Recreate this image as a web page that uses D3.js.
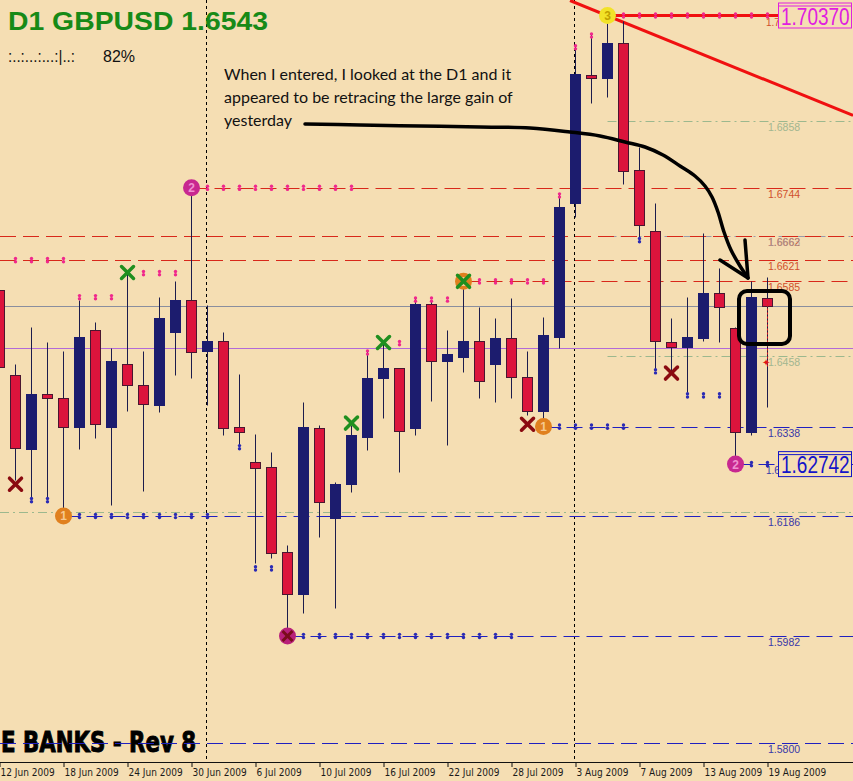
<!DOCTYPE html>
<html><head><meta charset="utf-8">
<script src="https://cdn.jsdelivr.net/npm/d3@7"></script>
<style>body{margin:0;background:#f5deb3;} svg{display:block}</style>
</head><body>
<svg id="c" width="853" height="781"></svg>
<script>
// ---------- DATA ----------
const dates = ["2009-06-12","2009-06-15","2009-06-16","2009-06-17","2009-06-18","2009-06-19",
"2009-06-22","2009-06-23","2009-06-24","2009-06-25","2009-06-26","2009-06-29","2009-06-30",
"2009-07-01","2009-07-02","2009-07-03","2009-07-06","2009-07-07","2009-07-08","2009-07-09","2009-07-10",
"2009-07-13","2009-07-14","2009-07-15","2009-07-16","2009-07-17","2009-07-20","2009-07-21","2009-07-22",
"2009-07-23","2009-07-24","2009-07-27","2009-07-28","2009-07-29","2009-07-30","2009-07-31",
"2009-08-03","2009-08-04","2009-08-05","2009-08-06","2009-08-07","2009-08-10","2009-08-11",
"2009-08-12","2009-08-13","2009-08-14","2009-08-17","2009-08-18","2009-08-19"];
const opens = [1.6571,1.6426,1.6300,1.6394,1.6387,1.6338,1.6503,1.6338,1.6445,1.6409,1.6374,1.6498,1.6554,
1.6466,1.6484,1.6338,1.6278,1.6270,1.6125,1.6054,1.6336,1.6183,1.6241,1.6321,1.6420,1.6437,1.6336,1.6546,
1.6449,1.6457,1.6484,1.6445,1.6489,1.6423,1.6365,1.6491,1.6719,1.6935,1.6930,1.6990,1.6775,1.6670,1.6481,
1.6474,1.6489,1.6566,1.6505,1.6329,1.6556];
const highs = [1.6585,1.6444,1.6507,1.6481,1.6467,1.6554,1.6515,1.6471,1.6602,1.6466,1.6559,1.6585,1.6744,
1.6544,1.6498,1.6428,1.6326,1.6294,1.6137,1.6379,1.6340,1.6243,1.6341,1.6466,1.6481,1.6438,1.6558,1.6551,
1.6503,1.6587,1.6541,1.6522,1.6556,1.6467,1.6525,1.6733,1.6985,1.7005,1.7037,1.7027,1.6813,1.6718,1.6522,
1.6559,1.6667,1.6607,1.6508,1.6585,1.6593];
const lows = [1.6432,1.6248,1.6217,1.6217,1.6186,1.6300,1.6319,1.6205,1.6365,1.6229,1.6362,1.6425,1.6421,
1.6375,1.6323,1.6307,1.6106,1.6115,1.5982,1.6021,1.6151,1.6030,1.6226,1.6299,1.6353,1.6261,1.6324,1.6381,
1.6307,1.6430,1.6387,1.6379,1.6387,1.6358,1.6338,1.6471,1.6694,1.6888,1.6898,1.6750,1.6656,1.6435,1.6430,
1.6396,1.6483,1.6481,1.62742,1.6324,1.6372];
const closes = [1.6440,1.6302,1.6394,1.6387,1.6338,1.6491,1.6343,1.6450,1.6408,1.6377,1.6522,1.6554,1.6464,
1.6484,1.6336,1.6329,1.6268,1.6123,1.6054,1.6338,1.6209,1.6241,1.6323,1.6420,1.6438,1.6331,1.6547,1.6449,
1.6461,1.6484,1.6415,1.6489,1.6423,1.6365,1.6493,1.6711,1.6937,1.6930,1.6990,1.6772,1.6680,1.6483,1.6474,
1.6491,1.6566,1.6541,1.6329,1.6558,1.6543];

const tickIndex = [0,4,8,12,16,20,24,28,32,36,40,44,48];
const tickLabels = ["12 Jun 2009","18 Jun 2009","24 Jun 2009","30 Jun 2009","6 Jul 2009","10 Jul 2009",
"16 Jul 2009","22 Jul 2009","28 Jul 2009","3 Aug 2009","7 Aug 2009","13 Aug 2009","19 Aug 2009"];

// resistance (red dashed), support (blue dashed), fibo (dash-dot)
const resistLevels = [1.6744, 1.6662, 1.6621, 1.6585];
const resistStart  = [12, 0, 0, 29];
const supportLevels = [1.6338, 1.62742, 1.6186, 1.5982, 1.5800];
const supportStart  = [34, 46, 4, 18, 0];
const fiboLevels = [1.6858, 1.6662, 1.6458, 1.6192];
const fiboStart  = [38, 38, 38, 0];
const fiboKind   = ["g","k","g","g"];
const labelPrices = [1.6858,1.6744,1.6662,1.6621,1.6585,1.6458,1.6338,1.6186,1.5982,1.5800];
const labelKind   = ["g","r","r","r","r","g","b","b","b","b"];
const hiddenLabelPrices = [1.7037, 1.62742];
const hiddenLabelText = ["1.7", "1.6"];
const hiddenLabelKind = ["r", "b"];
const bidPrice = 1.6543;
const purplePrice = 1.6471;

// fractal dots
const highDotPrices = [1.6621,1.6558,1.6599,1.6744,1.6464,1.6480,1.6554,1.6585,1.6731,1.6983,1.7003,1.7037];
const highDotFrom   = [1,5,9,13,23,25,26,30,35,36,37,39];
const highDotTo     = [4,7,11,22,23,25,28,34,35,36,37,48];
const lowDotPrices = [1.6213,1.6186,1.6303,1.6097,1.5982,1.6338,1.6655,1.6432,1.6391,1.62742];
const lowDotFrom   = [2,5,15,16,19,35,40,41,43,47];
const lowDotTo     = [3,13,15,17,32,39,40,41,45,48];

// pivot circles
const pivotIdx   = [4, 29, 34, 12, 46, 18, 38];
const pivotPrice = [1.6186, 1.6585, 1.6338, 1.6744, 1.62742, 1.5982, 1.7037];
const pivotKind  = ["o","o","o","m","m","x","y"];
const pivotText  = ["1","1","1","2","2","","3"];
// cross marks
const greenXIdx = [8, 22, 24, 29];
const greenXPrice = [1.6600, 1.6344, 1.6481, 1.6585];
const redXIdx = [1, 33, 42];
const redXPrice = [1.6240, 1.6342, 1.6429];

// trend lines (index, price)
const trendA = [[35.69, 1.70625], [53.375, 1.68671]];
const topLine = [[38, 1.7037], [48.8, 1.7037]];

// ---------- DRAW ----------
const W = 853, H = 781;
const svg = d3.select("#c");
const x = d3.scaleLinear().domain([0, 48]).range([-1, 767]);
const y = d3.scaleLinear().domain([1.58, 1.7037]).range([743, 15.5]);
const py = p => Math.round(y(p)) + 0.5;
const px = i => Math.round(x(i)) + 0.5;

svg.append("rect").attr("width", W).attr("height", H).attr("fill", "#f5deb3");

// watermark text
svg.append("text").attr("x", 1).attr("y", 752)
  .attr("font-family", "'DejaVu Sans Condensed','Liberation Sans Narrow','DejaVu Sans',sans-serif")
  .attr("font-stretch", "condensed").attr("font-weight", "bold").attr("font-size", 28)
  .attr("textLength", 195).attr("lengthAdjust", "spacingAndGlyphs")
  .attr("fill", "#000").attr("stroke", "#000").attr("stroke-width", 0.9).text("E BANKS - Rev 8");

// vertical period separators
svg.selectAll("line.sep").data([13, 36]).join("line")
  .attr("x1", d => px(d) - 1).attr("x2", d => px(d) - 1).attr("y1", 0).attr("y2", 762)
  .attr("stroke", "#000").attr("stroke-width", 1).attr("stroke-dasharray", "3,3");

// full-width solid lines
svg.append("line").attr("x1", 0).attr("x2", W).attr("y1", py(bidPrice)).attr("y2", py(bidPrice))
  .attr("stroke", "#8a8e9e").attr("stroke-width", 1);
svg.append("line").attr("x1", 0).attr("x2", W).attr("y1", py(purplePrice)).attr("y2", py(purplePrice))
  .attr("stroke", "#b26ad8").attr("stroke-width", 1);

// fibo dash-dot
fiboLevels.forEach((p, k) => {
  svg.append("line").attr("x1", Math.max(0, px(fiboStart[k]))).attr("x2", W)
    .attr("y1", py(p)).attr("y2", py(p))
    .attr("stroke", fiboKind[k] === "g" ? "#9cb88e" : "#9a9aa8").attr("stroke-width", 1)
    .attr("stroke-dasharray", "9,4,2,4");
});
// resistance
resistLevels.forEach((p, k) => {
  svg.append("line").attr("x1", Math.max(0, px(resistStart[k]))).attr("x2", W)
    .attr("y1", py(p)).attr("y2", py(p))
    .attr("stroke", "#d8281a").attr("stroke-width", 1).attr("stroke-dasharray", "16,7");
});
// support
supportLevels.forEach((p, k) => {
  svg.append("line").attr("x1", Math.max(0, px(supportStart[k]))).attr("x2", W)
    .attr("y1", py(p)).attr("y2", py(p))
    .attr("stroke", "#2020c0").attr("stroke-width", 1).attr("stroke-dasharray", "16,7");
});

// level labels
const labCol = {r: "#d0502c", g: "#a2b690", b: "#3838a8"};
const lblFont = "'Liberation Sans',Arial,sans-serif";
svg.selectAll("text.lvl").data(labelPrices).join("text")
  .attr("x", 768).attr("y", d => y(d) + 10)
  .attr("font-family", lblFont).attr("font-size", 10.5)
  .attr("fill", (d, i) => labCol[labelKind[i]]).text(d => d.toFixed(4));
svg.append("text").attr("x", 768).attr("y", y(1.6662) + 10)
  .attr("font-family", lblFont).attr("font-size", 10.5)
  .attr("fill", "#a0a0a8").attr("opacity", 0.8).text("1.6663");
hiddenLabelPrices.forEach((p, k) => svg.append("text").attr("x", 766).attr("y", y(p) + 10)
  .attr("font-family", lblFont).attr("font-size", 10)
  .attr("fill", labCol[hiddenLabelKind[k]]).text(hiddenLabelText[k]));

// thick red trend lines
const ln = d3.line().x(d => x(d[0])).y(d => y(d[1]));
svg.append("path").attr("d", ln(trendA)).attr("stroke", "#f01010").attr("stroke-width", 3).attr("fill", "none");
svg.append("path").attr("d", ln(topLine)).attr("stroke", "#f01010").attr("stroke-width", 3).attr("fill", "none");

// candles
const bars = dates.map((d, i) => ({i, o: opens[i], h: highs[i], l: lows[i], c: closes[i]}));
const cg = svg.append("g");
cg.selectAll("line.wick").data(bars).join("line")
  .attr("x1", d => px(d.i)).attr("x2", d => px(d.i))
  .attr("y1", d => py(d.h)).attr("y2", d => py(d.l))
  .attr("stroke", "#1c1c4c").attr("stroke-width", 1);
cg.selectAll("rect.body").data(bars).join("rect")
  .attr("x", d => px(d.i) - 5).attr("width", 10)
  .attr("y", d => py(Math.max(d.o, d.c)))
  .attr("height", d => Math.max(1, py(Math.min(d.o, d.c)) - py(Math.max(d.o, d.c))))
  .attr("fill", d => d.c < d.o ? "#dc143c" : "#1c1c6e")
  .attr("stroke", d => d.c < d.o ? "#4a1630" : "#1c1c6e").attr("stroke-width", 1);

// fractal dots
function dotRow(prices, from, to, col) {
  prices.forEach((p, k) => {
    for (let i = from[k]; i <= to[k]; i++) {
      const gx = px(i), gy = y(p);
      svg.append("circle").attr("cx", gx).attr("cy", gy - 1.6).attr("r", 1.7).attr("fill", col);
      svg.append("circle").attr("cx", gx).attr("cy", gy + 1.6).attr("r", 1.7).attr("fill", col);
    }
  });
}
dotRow(highDotPrices, highDotFrom, highDotTo, "#f0288c");
dotRow(lowDotPrices, lowDotFrom, lowDotTo, "#2a2ab4");

// pivot circles
const pCol = {o: "#e0801e", m: "#c82890", x: "#b8207a", y: "#f2e228"};
const pTxt = {o: "#f6c890", m: "#f090d0", x: "#f090c0", y: "#c0a000"};
pivotIdx.forEach((i, k) => {
  const cx = px(i), cy = y(pivotPrice[k]);
  svg.append("circle").attr("cx", cx).attr("cy", cy).attr("r", 8.5).attr("fill", pCol[pivotKind[k]]);
  if (pivotText[k]) svg.append("text").attr("x", cx).attr("y", cy + 4.5).attr("text-anchor", "middle")
    .attr("font-family", lblFont).attr("font-weight", "bold").attr("font-size", 12)
    .attr("fill", pTxt[pivotKind[k]]).text(pivotText[k]);
  if (pivotKind[k] === "x") {
    [[-5,-5,5,5],[-5,5,5,-5]].forEach(s => svg.append("line")
      .attr("x1", cx + s[0]).attr("y1", cy + s[1]).attr("x2", cx + s[2]).attr("y2", cy + s[3])
      .attr("stroke", "#7a0c1c").attr("stroke-width", 3));
  }
});

// cross marks
function crosses(idx, prices, col) {
  idx.forEach((i, k) => {
    const cx = px(i), cy = y(prices[k]);
    [[-6,-6,6,6],[-6,6,6,-6]].forEach(s => svg.append("line")
      .attr("x1", cx + s[0]).attr("y1", cy + s[1]).attr("x2", cx + s[2]).attr("y2", cy + s[3])
      .attr("stroke", col).attr("stroke-width", 3.5).attr("stroke-linecap", "round"));
  });
}
crosses(greenXIdx, greenXPrice, "#1f8f1f");
crosses(redXIdx, redXPrice, "#8a0a10");

// current bar marker
svg.append("line").attr("x1", px(48)).attr("x2", px(48)).attr("y1", py(1.6556) + 2).attr("y2", py(1.6440))
  .attr("stroke", "#e01818").attr("stroke-dasharray", "2,2");
svg.append("text").attr("x", px(48) - 2).attr("y", py(1.6450) + 4).attr("text-anchor", "middle")
  .attr("font-size", 10).attr("fill", "#e01818").text("✦");

// price boxes
function priceBox(p, col, txt) {
  const cy = y(p);
  svg.append("rect").attr("x", 778.5).attr("y", cy - 12.5).attr("width", 73).attr("height", 25)
    .attr("fill", "#f5deb3").attr("stroke", col).attr("stroke-width", 1);
  svg.append("line").attr("x1", 779).attr("x2", 851).attr("y1", cy - 9.5).attr("y2", cy - 9.5)
    .attr("stroke", col).attr("stroke-width", 1);
  svg.append("text").attr("transform", `translate(781,${cy + 9}) scale(1,1.22)`)
    .attr("font-family", lblFont).attr("font-size", 19)
    .attr("fill", col).text(txt);
}
priceBox(1.7037, "#e020e0", "1.70370");
priceBox(1.62742, "#1414c8", "1.62742");

// x axis
const ax = svg.append("g").attr("transform", "translate(0,762)");
ax.call(d3.axisBottom(x).tickValues(tickIndex).tickFormat((d, i) => tickLabels[i]).tickSize(5).tickSizeOuter(0));
ax.select(".domain").remove();
ax.selectAll(".tick line").attr("stroke", "#111").attr("transform", "translate(0.5,0)");
ax.selectAll(".tick text").attr("text-anchor", "start").attr("x", 1).attr("y", 14).attr("dy", 0)
  .attr("font-family", "'DejaVu Sans Condensed','DejaVu Sans',sans-serif").attr("font-stretch", "condensed")
  .attr("font-size", 10).attr("fill", "#1a1a1a");
svg.append("line").attr("x1", 0).attr("x2", W).attr("y1", 762.5).attr("y2", 762.5).attr("stroke", "#111");

// title
svg.append("text").attr("x", 8).attr("y", 30)
  .attr("font-family", lblFont).attr("font-weight", "bold").attr("font-size", 25)
  .attr("textLength", 260).attr("lengthAdjust", "spacingAndGlyphs")
  .attr("fill", "#178a17").text("D1 GBPUSD 1.6543");
svg.append("text").attr("x", 8).attr("y", 62)
  .attr("font-family", lblFont).attr("font-size", 16)
  .attr("textLength", 67).attr("lengthAdjust", "spacingAndGlyphs")
  .attr("fill", "#111").text(":..:...:...:|..:");
svg.append("text").attr("x", 103).attr("y", 62)
  .attr("font-family", lblFont).attr("font-size", 16)
  .attr("fill", "#111").text("82%");

// annotation
const noteLines = ["When I entered, I looked at the D1 and it", "appeared to be retracing the large gain of", "yesterday"];
svg.selectAll("text.note").data(noteLines).join("text")
  .attr("x", 224).attr("y", (d, i) => 80 + i * 23)
  .attr("font-family", "Lato,'Open Sans',sans-serif").attr("font-size", 16).attr("fill", "#111").text(d => d);

const arrowPts = [[305,124],[360,125],[420,126],[480,127],[530,128],[570,132],[600,136],[625,142],[645,147],
  [663,155],[680,166],[695,176],[705,186],[712,197],[718,212],[724,232],[731,250],[740,266],[748,278]];
svg.append("path").attr("d", d3.line().curve(d3.curveCatmullRom)(arrowPts))
  .attr("fill", "none").attr("stroke", "#000").attr("stroke-width", 3.5).attr("stroke-linecap", "round");
svg.append("path").attr("d", "M720,260 L748,278 M745,240 L748,278")
  .attr("fill", "none").attr("stroke", "#000").attr("stroke-width", 3.5).attr("stroke-linecap", "round");
svg.append("rect").attr("x", 739).attr("y", 291).attr("width", 51).attr("height", 53).attr("rx", 8)
  .attr("fill", "none").attr("stroke", "#000").attr("stroke-width", 4);
</script>
</body></html>
